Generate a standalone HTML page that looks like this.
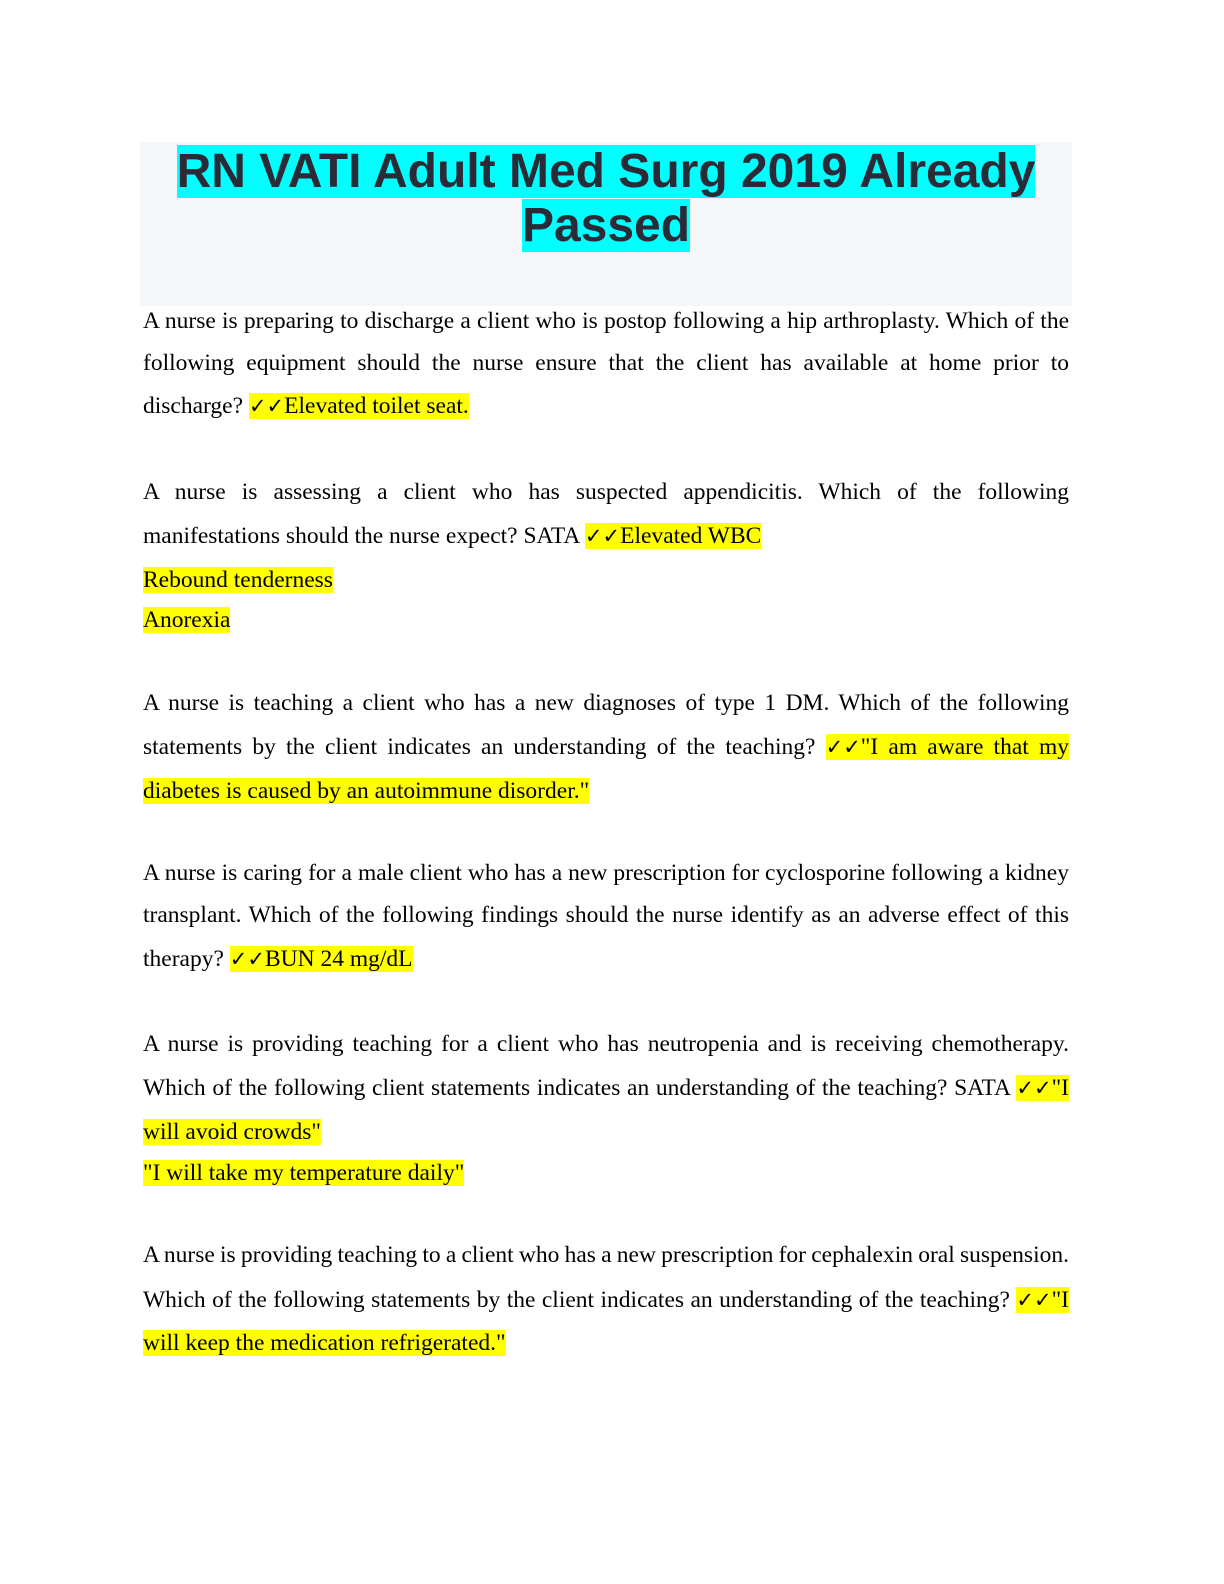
<!DOCTYPE html>
<html><head><meta charset="utf-8"><style>
body{margin:0;background:#fff;width:1224px;height:1584px;position:relative;font-family:"Liberation Serif",serif;}
.hdr{position:absolute;left:140px;top:142px;width:932px;height:164px;background:#f5f6fa;}
.t{position:absolute;left:140px;width:932px;text-align:center;font-family:"Liberation Sans",sans-serif;font-weight:bold;font-size:48px;color:#2b2b38;line-height:54px;}
.t span{background:#00ffff;}
.l{position:absolute;left:143px;width:926px;font-size:23.5px;line-height:27px;height:27px;overflow:hidden;color:#000;white-space:nowrap;}
.j{text-align:justify;text-align-last:justify;white-space:normal;word-spacing:-1.5px;}
.h{background:#ffff00;}
.c{display:inline-block;white-space:nowrap;font-weight:bold;font-family:"DejaVu Sans",sans-serif;font-size:21px;line-height:27px;vertical-align:top;}
</style></head><body>
<div class="hdr"></div>
<div class="t" style="top:145px"><span>RN VATI Adult Med Surg 2019 Already</span></div>
<div class="t" style="top:199px"><span>Passed</span></div>

<div class="l j" style="top:308px">A nurse is preparing to discharge a client who is postop following a hip arthroplasty. Which of the</div>
<div class="l j" style="top:350px">following equipment should the nurse ensure that the client has available at home prior to</div>
<div class="l" style="top:393px">discharge? <span class="h"><span class="c">✓✓</span>Elevated toilet seat.</span></div>

<div class="l j" style="top:479px">A nurse is assessing a client who has suspected appendicitis. Which of the following</div>
<div class="l" style="top:523px">manifestations should the nurse expect? SATA <span class="h"><span class="c">✓✓</span>Elevated WBC</span></div>
<div class="l" style="top:567px"><span class="h">Rebound tenderness</span></div>
<div class="l" style="top:607px"><span class="h">Anorexia</span></div>

<div class="l j" style="top:690px">A nurse is teaching a client who has a new diagnoses of type 1 DM. Which of the following</div>
<div class="l j" style="top:734px">statements by the client indicates an understanding of the teaching? <span class="h"><span class="c">✓✓</span>"I am aware that my</span></div>
<div class="l" style="top:778px"><span class="h">diabetes is caused by an autoimmune disorder."</span></div>

<div class="l j" style="top:860px">A nurse is caring for a male client who has a new prescription for cyclosporine following a kidney</div>
<div class="l j" style="top:902px">transplant. Which of the following findings should the nurse identify as an adverse effect of this</div>
<div class="l" style="top:946px">therapy? <span class="h"><span class="c">✓✓</span>BUN 24 mg/dL</span></div>

<div class="l j" style="top:1031px">A nurse is providing teaching for a client who has neutropenia and is receiving chemotherapy.</div>
<div class="l j" style="top:1075px">Which of the following client statements indicates an understanding of the teaching? SATA <span class="h"><span class="c">✓✓</span>"I</span></div>
<div class="l" style="top:1119px"><span class="h">will avoid crowds"</span></div>
<div class="l" style="top:1160px"><span class="h">"I will take my temperature daily"</span></div>

<div class="l j" style="top:1242px">A nurse is providing teaching to a client who has a new prescription for cephalexin oral suspension.</div>
<div class="l j" style="top:1287px">Which of the following statements by the client indicates an understanding of the teaching? <span class="h"><span class="c">✓✓</span>"I</span></div>
<div class="l" style="top:1330px"><span class="h">will keep the medication refrigerated."</span></div>
</body></html>
